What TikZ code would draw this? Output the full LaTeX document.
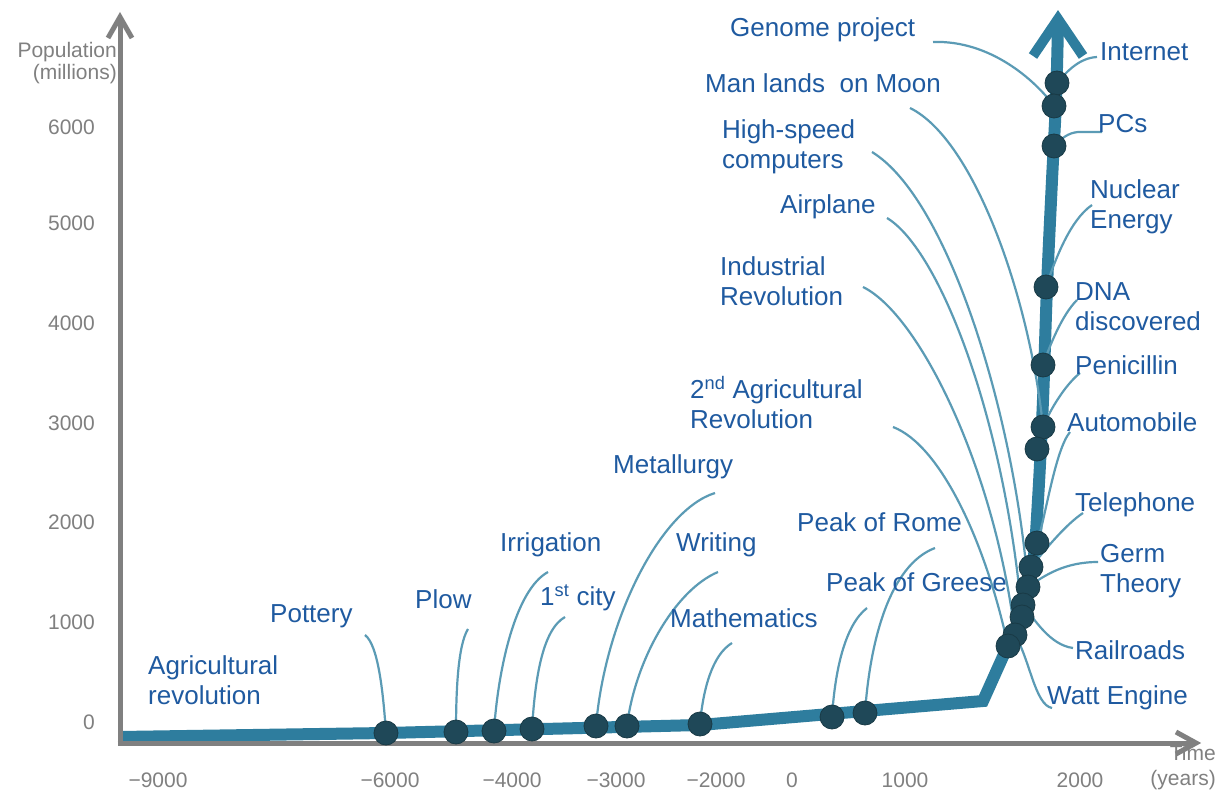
\documentclass[tikz,border=0pt]{standalone}
\usepackage{fontspec}
\setmainfont{Liberation Sans}
\pgfdeclarelayer{back}
\pgfdeclarelayer{bg}
\pgfsetlayers{back,bg,main}
\definecolor{txtblue}{HTML}{1F5AA0}
\definecolor{leadc}{HTML}{5B9BB5}
\definecolor{linec}{HTML}{2E7D9E}
\definecolor{dotc}{HTML}{1F4858}
\definecolor{axisgray}{HTML}{808080}
\begin{document}
\begin{tikzpicture}[x=1pt,y=-1pt,
 lbl/.style={anchor=west, inner sep=0pt, text=txtblue, font=\fontsize{26}{30}\selectfont, align=left},
 tick/.style={inner sep=0pt, text=axisgray, font=\fontsize{21}{22}\selectfont},
 dot/.style={circle, fill=dotc, draw=dotc!80!black, line width=0.8pt, minimum size=24pt, inner sep=0pt},
 leader/.style={draw=leadc, line width=2.2pt},
 mainline/.style={draw=linec, line width=12pt},
 axis/.style={draw=axisgray, line width=5pt}]
\begin{pgfonlayer}{back}
\fill[white] (0,0) rectangle (1227,791);
\end{pgfonlayer}
\useasboundingbox (0,0) rectangle (1227,791);

% axes
\coordinate (O) at (120,743);
\coordinate (ytip) at (120,17);
\coordinate (xtip) at (1196,743);
\draw[axis] (120,745.5) -- (ytip);
\draw[axis, miter limit=10] (108,38) -- (ytip) -- (132,38);
\draw[axis] (117.5,743) -- (xtip);
\draw[axis, miter limit=10] (1176,732) -- (xtip) -- (1176,754);

% tick labels
\foreach \v/\yy in {0/722,1000/622,2000/522,3000/423,4000/323,5000/223,6000/127}
  \node[tick, anchor=east] (ty\v) at (95,\yy) {\v};
\foreach \nm/\v/\xx in {a/−9000/158,b/−6000/390,c/−4000/512,d/−3000/616,e/−2000/716,f/0/792,g/1000/905,h/2000/1080}
  \node[tick] (tx\nm) at (\xx,780) {\v};
\node[tick, anchor=east, align=right] (ylab) at (117,63) {Population\\(millions)};
\node[tick, anchor=east, align=right, font=\fontsize{21}{25}\selectfont] (xlab) at (1216,768) {Time\\(years)};

% dots
\foreach \n/\x/\y in {b1/386/733, b2/456/732, b3/494/731, b4/532/729, b5/596/726, b6/627/726, b7/700/724, b8/832/717, b9/865/713,
  c1/1057/83, c2/1054/106, c3/1054/146, c4/1046/287, c5/1043/365, c6/1043/427, c7/1037/449, c8/1037/543, c9/1031/567,
  c10/1028/587, c11/1023/605, c12/1022/617, c13/1015/635, c14/1008/646}
  \node[dot] (\n) at (\x,\y) {};

% labels
\node[lbl] (tGenome) at (730,30) {Genome project};
\node[lbl] (tMoon) at (705,83) {Man lands\ \ on Moon};
\node[lbl] (tHigh) at (722,147) {High-speed\\computers};
\node[lbl] (tAir) at (780,207) {Airplane};
\node[lbl] (tInd) at (720,281) {Industrial\\Revolution};
\node[lbl] (t2nd) at (690,403) {2\textsuperscript{nd} Agricultural\\Revolution};
\node[lbl] (tMet) at (613,467) {Metallurgy};
\node[lbl] (tRome) at (797,522) {Peak of Rome};
\node[lbl] (tIrr) at (500,545) {Irrigation};
\node[lbl] (tWri) at (676,545) {Writing};
\node[lbl] (tGre) at (826,582) {Peak of Greese};
\node[lbl] (tCity) at (540,598) {1\textsuperscript{st} city};
\node[lbl] (tPlow) at (415,599) {Plow};
\node[lbl] (tPot) at (270,616) {Pottery};
\node[lbl] (tMath) at (670,618) {Mathematics};
\node[lbl] (tAgr) at (148,680) {Agricultural\\revolution};
\node[lbl] (tInt) at (1100,52) {Internet};
\node[lbl] (tPC) at (1098,124) {PCs};
\node[lbl] (tNuc) at (1090,207) {Nuclear\\Energy};
\node[lbl] (tDNA) at (1075,307) {DNA\\discovered};
\node[lbl] (tPen) at (1075,365) {Penicillin};
\node[lbl] (tAuto) at (1067,422) {Automobile};
\node[lbl] (tTel) at (1075,505) {Telephone};
\node[lbl] (tGerm) at (1100,571) {Germ\\Theory};
\node[lbl] (tRail) at (1075,650) {Railroads};
\node[lbl] (tWatt) at (1047,698) {Watt Engine};

% leader free ends
\coordinate (sPot) at (365,635);
\coordinate (sPlow) at (468,629);
\coordinate (sIrr) at (548,572);
\coordinate (sCity) at (565,617);
\coordinate (sMet) at (715,493);
\coordinate (sWri) at (718,572);
\coordinate (sMath) at (732,643);
\coordinate (sGre) at (867,608);
\coordinate (sRome) at (935,548);
\coordinate (s2nd) at (893,427);
\coordinate (sInd) at (863,287);
\coordinate (sAir) at (887,218);
\coordinate (sHigh) at (872,152);
\coordinate (sMoon) at (910,108);
\coordinate (sGen) at (933,42);
\coordinate (sInt) at (1097,57);
\coordinate (sPC) at (1102,132);
\coordinate (sNuc) at (1092,205);
\coordinate (sDNA) at (1077,300);
\coordinate (sPen) at (1080,373);
\coordinate (sAuto) at (1070,432);
\coordinate (sTel) at (1083,513);
\coordinate (sGerm) at (1098,562);
\coordinate (sRail) at (1073,648);
\coordinate (sWatt) at (1052,708);

\begin{pgfonlayer}{bg}
% main population curve
\draw[mainline] (120,737) -- (386,733) -- (700,725) -- (983,701) -- (1005,652);
\draw[mainline, line cap=round] plot[smooth, tension=0.6] coordinates {(1005,652) (1022,611) (1033,563) (1038,500) (1043,400) (1047,287) (1052,180) (1056,100) (1058,24)};
\draw[mainline, line width=10pt, miter limit=10] (1033,56) -- (1058,19) -- (1083,56);

% leaders
\draw[leader] (sPot) .. controls (378,645) and (383,690) .. (b1.center);
\draw[leader] (sPlow) .. controls (458,645) and (456,690) .. (b2.center);
\draw[leader] (sIrr) .. controls (515,590) and (498,670) .. (b3.center);
\draw[leader] (sCity) .. controls (542,630) and (535,680) .. (b4.center);
\draw[leader] (sMet) .. controls (660,510) and (605,620) .. (b5.center);
\draw[leader] (sWri) .. controls (675,590) and (635,660) .. (b6.center);
\draw[leader] (sMath) .. controls (712,655) and (703,690) .. (b7.center);
\draw[leader] (sGre) .. controls (845,625) and (835,670) .. (b8.center);
\draw[leader] (sRome) .. controls (890,565) and (870,640) .. (b9.center);
\draw[leader] (s2nd) .. controls (940,445) and (985,540) .. (c14.center);
\draw[leader] (sInd) .. controls (920,315) and (995,470) .. (c13.center);
\draw[leader] (sAir) .. controls (940,250) and (1005,420) .. (c12.center);
\draw[leader] (sHigh) .. controls (950,200) and (1015,420) .. (c10.center);
\draw[leader] (sMoon) .. controls (975,140) and (1030,300) .. (c6.center);
\draw[leader] (sGen) .. controls (990,40) and (1035,80) .. (c2.center);
\draw[leader] (sInt) .. controls (1080,58) and (1068,70) .. (c1.center);
\draw[leader] (sPC) -- (1078,132) .. controls (1068,133) and (1062,138) .. (c3.center);
\draw[leader] (sNuc) .. controls (1070,220) and (1055,260) .. (c4.center);
\draw[leader] (sDNA) .. controls (1062,315) and (1050,345) .. (c5.center);
\draw[leader] (sPen) .. controls (1065,385) and (1050,410) .. (c6.center);
\draw[leader] (sAuto) .. controls (1055,450) and (1045,520) .. (c8.center);
\draw[leader] (sTel) .. controls (1065,525) and (1045,550) .. (c9.center);
\draw[leader] (sGerm) .. controls (1065,562) and (1045,575) .. (c10.center);
\draw[leader] (sRail) .. controls (1050,645) and (1035,620) .. (c11.center);
\draw[leader] (sWatt) .. controls (1035,705) and (1030,660) .. (c13.center);
\end{pgfonlayer}
\end{tikzpicture}
\end{document}
